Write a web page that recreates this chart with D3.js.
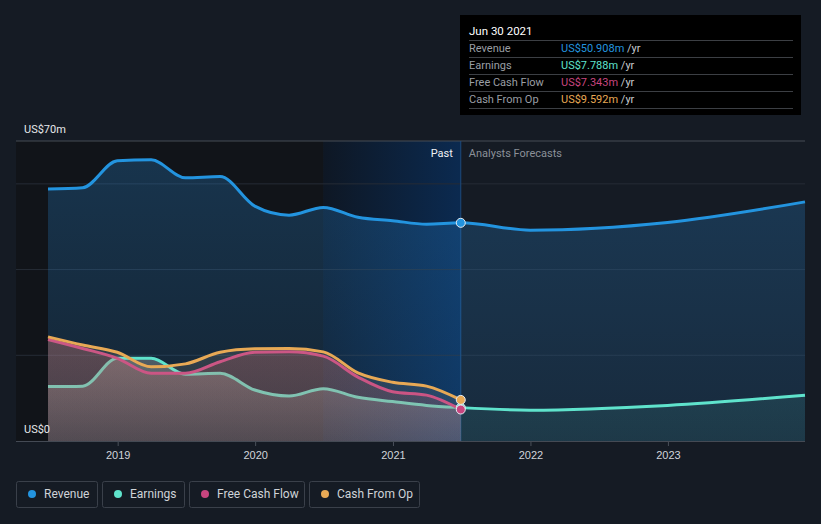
<!DOCTYPE html>
<html><head><meta charset="utf-8">
<script src="https://cdn.jsdelivr.net/npm/d3@7"></script>
<style>
html,body{margin:0;padding:0;background:#151b24;}
svg{display:block;font-family:Roboto,"Noto Sans",sans-serif;}
</style></head>
<body>
<svg id="c" width="821" height="524"></svg>
<script>
// ---- data ----
const pastDates = ["2018-06-30","2018-09-30","2018-12-31","2019-03-31","2019-06-30","2019-09-30","2019-12-31","2020-03-31","2020-06-30","2020-09-30","2020-12-31","2021-03-31","2021-06-30"];
const revenuePast = [58.8, 59.1, 65.4, 65.6, 61.4, 61.7, 54.8, 52.7, 54.5, 52.2, 51.4, 50.6, 50.908];
const earningsPast = [12.7, 12.8, 19.3, 19.3, 15.6, 15.8, 11.9, 10.5, 12.2, 10.2, 9.2, 8.3, 7.788];
const fcfPast = [23.7, 21.6, 19.3, 15.8, 15.8, 18.5, 20.7, 20.8, 19.8, 14.9, 11.5, 10.7, 7.343];
const cfoPast = [24.3, 22.4, 20.7, 17.3, 18.0, 20.7, 21.5, 21.6, 20.8, 15.9, 13.7, 12.8, 9.592];
const forecastDates = ["2021-06-30","2021-12-31","2022-12-31","2023-12-31"];
const revenueForecast = [50.908, 49.2, 51.0, 55.8];
const earningsForecast = [7.788, 7.2, 8.3, 10.7];
const yTicks = [0, 20, 40, 60, 70];
const xTickYears = [2019, 2020, 2021, 2022, 2023];
const seriesNames = ["Revenue", "Earnings", "Free Cash Flow", "Cash From Op"];
const seriesColors = ["#2394df", "#5fe3cc", "#c8457f", "#e8a955"];
const tooltipValues = ["US$50.908m", "US$7.788m", "US$7.343m", "US$9.592m"];
const tooltipDate = "Jun 30 2021";

// ---- scales ----
const parse = d3.timeParse("%Y-%m-%d");
const svg = d3.select("#c");
const x = d3.scaleTime().domain([parse("2018-06-30"), parse("2023-12-31")]).range([48, 805]);
const y = d3.scaleLinear().domain([0, 70]).range([441, 141]);
const left = 16, right = 805;
const nowD = parse("2021-06-30");
const hlStart = parse("2020-06-30");

const defs = svg.append("defs");
const hg = defs.append("linearGradient").attr("id","hl").attr("x1","0").attr("x2","1").attr("y1","0").attr("y2","0");
hg.append("stop").attr("offset","0").attr("stop-color","#0e1724");
hg.append("stop").attr("offset","1").attr("stop-color","#0b2a50");

function vgrad(id, color, o1, o2){
  const g = defs.append("linearGradient").attr("id",id).attr("x1","0").attr("x2","0").attr("y1","0").attr("y2","1");
  g.append("stop").attr("offset","0").attr("stop-color",color).attr("stop-opacity",o1);
  g.append("stop").attr("offset","1").attr("stop-color",color).attr("stop-opacity",o2);
}
vgrad("gRev", "#2a8fe0", 0.26, 0.13);
vgrad("gEarn", "#5fe3cc", 0.10, 0.08);
vgrad("gFcf", "#b8505a", 0.30, 0.16);
vgrad("gCfo", "#e0c8a8", 0.14, 0.10);
vgrad("gEarnPast", "#d8d6cc", 0.30, 0.12);

// backgrounds
svg.append("rect").attr("x", left).attr("y", y(70)).attr("width", x(hlStart)-left).attr("height", y(0)-y(70)).attr("fill","#111419");
svg.append("rect").attr("x", x(hlStart)).attr("y", y(70)).attr("width", x(nowD)-x(hlStart)).attr("height", y(0)-y(70)).attr("fill","url(#hl)");

// grid
svg.append("g").selectAll("line").data(yTicks.filter(v=>v>0)).join("line")
  .attr("x1", left).attr("x2", right).attr("y1", d=>y(d)).attr("y2", d=>y(d))
  .attr("stroke", d=> d===70 ? "#474c55" : "#262c36").attr("stroke-width",1);

// now line
svg.append("line").attr("x1", x(nowD)).attr("x2", x(nowD)).attr("y1", y(70)).attr("y2", y(0)).attr("stroke","#1d4a7c").attr("stroke-width",1);

const curve = d3.curveMonotoneX;
function mk(dates, vals){ return dates.map((d,i)=>({d:parse(d), v:vals[i]})); }
const area = d3.area().x(p=>x(p.d)).y0(y(0)).y1(p=>y(p.v)).curve(curve);
const line = d3.line().x(p=>x(p.d)).y(p=>y(p.v)).curve(curve);

const revAll = mk(pastDates, revenuePast).concat(mk(forecastDates.slice(1), revenueForecast.slice(1)));
const earnAll = mk(pastDates, earningsPast).concat(mk(forecastDates.slice(1), earningsForecast.slice(1)));

svg.append("path").attr("d", area(revAll)).attr("fill","url(#gRev)");
svg.append("path").attr("d", line(revAll)).attr("fill","none").attr("stroke",seriesColors[0]).attr("stroke-width",3);
svg.append("path").attr("d", area(mk(forecastDates, earningsForecast))).attr("fill","url(#gEarn)");
svg.append("path").attr("d", area(mk(pastDates, earningsPast))).attr("fill","url(#gEarnPast)");
svg.append("path").attr("d", line(earnAll)).attr("fill","none").attr("stroke",seriesColors[1]).attr("stroke-width",3);
const fcf = mk(pastDates, fcfPast);
svg.append("path").attr("d", area(fcf)).attr("fill","url(#gFcf)");
svg.append("path").attr("d", line(fcf)).attr("fill","none").attr("stroke",seriesColors[2]).attr("stroke-width",3);
const cfo = mk(pastDates, cfoPast);
svg.append("path").attr("d", area(cfo)).attr("fill","url(#gCfo)");
svg.append("path").attr("d", line(cfo)).attr("fill","none").attr("stroke",seriesColors[3]).attr("stroke-width",3);

const dotVals = [revenuePast[12], earningsPast[12], cfoPast[12], fcfPast[12]];
const dotCols = [seriesColors[0], seriesColors[1], seriesColors[3], seriesColors[2]];
svg.append("g").selectAll("circle").data(dotVals).join("circle")
  .attr("cx", x(nowD)).attr("cy", d=>y(d)).attr("r", 4.5)
  .attr("fill", (d,i)=>dotCols[i]).attr("stroke","#e6ecf2").attr("stroke-width",1);

const xAxis = d3.axisBottom(x).tickValues(xTickYears.map(yr=>new Date(yr,0,1))).tickFormat(d3.timeFormat("%Y")).tickSize(5).tickSizeOuter(0);
const gx = svg.append("g").attr("transform",`translate(0,${y(0)})`).call(xAxis);
gx.select(".domain").remove();
gx.selectAll(".tick line").attr("stroke","#4a505a");
gx.selectAll(".tick text").attr("fill","#d0d4da").attr("font-size",11).attr("dy","0.95em");
svg.append("line").attr("x1",left).attr("x2",right).attr("y1",y(0)+0.5).attr("y2",y(0)+0.5).attr("stroke","#444a54");

svg.append("text").attr("x",24).attr("y",y(70)-8).attr("fill","#e6e8ea").attr("font-size",11).text("US$70m");
svg.append("text").attr("x",24).attr("y",y(0)-8).attr("fill","#e6e8ea").attr("font-size",11).text("US$0");

svg.append("text").attr("x", x(nowD)-8).attr("y",157).attr("text-anchor","end").attr("fill","#f0f2f4").attr("font-size",11).text("Past");
svg.append("text").attr("x", x(nowD)+8).attr("y",157).attr("fill","#8b9098").attr("font-size",11).text("Analysts Forecasts");

const tt = svg.append("g");
tt.append("rect").attr("x",460).attr("y",15).attr("width",341).attr("height",100).attr("fill","#000");
tt.append("text").attr("x",469).attr("y",35).attr("fill","#fff").attr("font-size",11.5).text(tooltipDate);
seriesNames.forEach((n,i)=>{
  const yy = 40 + i*17;
  tt.append("line").attr("x1",469).attr("x2",793).attr("y1",yy+0.5).attr("y2",yy+0.5).attr("stroke","#3c3f44");
  tt.append("text").attr("x",469).attr("y",yy+12).attr("fill","#9a9ea4").attr("font-size",11).text(n);
  const t = tt.append("text").attr("x",561).attr("y",yy+12).attr("font-size",11);
  t.append("tspan").attr("fill",seriesColors[i]).text(tooltipValues[i]);
  t.append("tspan").attr("fill","#c8ccd0").text(" /yr");
});
tt.append("line").attr("x1",469).attr("x2",793).attr("y1",108.5).attr("y2",108.5).attr("stroke","#3c3f44");

const legX = [16, 102, 189, 309], legW = [81, 82, 115, 110];
const lg = svg.append("g");
seriesNames.forEach((n,i)=>{
  lg.append("rect").attr("x",legX[i]+0.5).attr("y",481.5).attr("width",legW[i]).attr("height",26).attr("rx",2).attr("fill","none").attr("stroke","#3a404a");
  lg.append("circle").attr("cx",legX[i]+16).attr("cy",494).attr("r",4).attr("fill",seriesColors[i]);
  lg.append("text").attr("x",legX[i]+28).attr("y",498).attr("fill","#cfd3d8").attr("font-size",12).text(n);
});
</script>
</body></html>
